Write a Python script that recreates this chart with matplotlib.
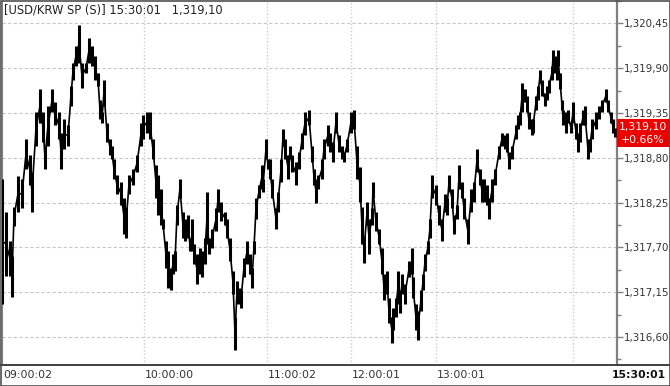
import numpy as np
import matplotlib.pyplot as plt
import matplotlib.transforms as mtransforms
from matplotlib.lines import Line2D
from matplotlib.patches import Rectangle

# tick chart: x is the tick count, y the high/low of each bar
tick_no = [2, 6, 10, 12, 14, 18, 22, 26, 30, 32, 36, 40, 43, 45, 48, 52, 55, 59, 61, 64,
           68, 71, 73, 76, 79, 82, 86, 89, 92, 95, 98, 100, 102, 104, 107, 110, 112, 114, 117, 121,
           124, 126, 129, 133, 137, 141, 143, 147, 150, 153, 156, 158, 161, 163, 166, 168, 171, 173, 175, 177,
           180, 183, 185, 188, 190, 192, 194, 197, 200, 202, 205, 207, 209, 212, 216, 218, 221, 225, 227, 230,
           233, 235, 237, 240, 241, 244, 247, 250, 252, 254, 256, 259, 262, 263, 266, 268, 270, 272, 276, 278,
           281, 283, 285, 288, 290, 292, 296, 299, 302, 305, 309, 312, 314, 316, 318, 322, 324, 328, 330, 333,
           336, 339, 342, 344, 347, 351, 354, 357, 360, 362, 364, 367, 369, 372, 373, 376, 379, 382, 384, 387,
           389, 392, 393, 396, 398, 400, 402, 405, 409, 412, 413, 416, 418, 421, 423, 425, 428, 430, 432, 436,
           439, 442, 445, 447, 449, 452, 454, 457, 459, 462, 464, 468, 471, 474, 477, 480, 482, 484, 487, 489,
           492, 495, 499, 502, 505, 507, 509, 512, 516, 518, 520, 522, 525, 527, 529, 532, 533, 536, 538, 540,
           542, 545, 547, 549, 552, 553, 555, 557, 558, 560, 562, 563, 566, 568, 571, 573, 576, 578, 580, 583,
           585, 588, 590, 592, 596, 599, 602, 606, 608, 611, 613, 615]

high = [1318.54, 1318.14, 1317.78, 1317.59, 1318.20, 1318.57, 1318.54, 1319.03, 1318.83, 1318.63,
        1319.36, 1319.64, 1319.36, 1318.95, 1319.44, 1319.64, 1319.48, 1319.36, 1319.11, 1319.27,
        1319.20, 1319.68, 1319.96, 1320.17, 1320.43, 1319.96, 1319.96, 1320.27, 1320.17, 1320.05,
        1319.84, 1319.51, 1319.36, 1319.76, 1319.23, 1319.03, 1318.95, 1318.78, 1318.59, 1318.50,
        1318.30, 1318.20, 1318.59, 1318.66, 1318.83, 1319.23, 1319.32, 1319.36, 1319.36, 1319.03,
        1318.71, 1318.59, 1318.42, 1318.05, 1317.78, 1317.65, 1317.45, 1317.62, 1317.65, 1318.22,
        1318.54, 1318.14, 1318.05, 1318.10, 1317.81, 1318.05, 1317.74, 1317.62, 1317.69, 1317.65,
        1317.81, 1318.38, 1317.81, 1317.93, 1318.18, 1318.42, 1318.26, 1318.14, 1318.05, 1317.81,
        1317.41, 1316.84, 1317.29, 1317.20, 1317.17, 1317.57, 1317.78, 1317.62, 1317.45, 1317.78,
        1318.30, 1318.47, 1318.71, 1318.54, 1319.03, 1318.78, 1318.78, 1318.54, 1318.18, 1318.38,
        1318.78, 1319.15, 1319.03, 1318.83, 1318.95, 1318.83, 1318.75, 1318.87, 1319.11, 1319.36,
        1319.39, 1318.95, 1318.66, 1318.54, 1318.59, 1318.78, 1319.03, 1319.20, 1319.11, 1318.99,
        1319.36, 1319.08, 1318.95, 1318.87, 1319.03, 1319.36, 1319.39, 1318.95, 1318.69, 1318.20,
        1317.84, 1318.26, 1318.05, 1318.18, 1318.50, 1318.14, 1317.93, 1317.69, 1317.37, 1317.41,
        1317.08, 1316.84, 1316.96, 1317.08, 1317.41, 1317.17, 1317.37, 1317.25, 1317.53, 1317.69,
        1317.33, 1317.01, 1316.92, 1317.17, 1317.37, 1317.62, 1317.78, 1318.05, 1318.59, 1318.47,
        1318.22, 1318.05, 1318.35, 1318.30, 1318.59, 1318.42, 1318.10, 1318.22, 1318.71, 1318.50,
        1318.30, 1318.05, 1318.42, 1318.50, 1318.91, 1318.66, 1318.54, 1318.54, 1318.47, 1318.30,
        1318.54, 1318.66, 1318.95, 1319.11, 1319.08, 1319.11, 1318.87, 1318.95, 1319.20, 1319.32,
        1319.36, 1319.72, 1319.64, 1319.56, 1319.36, 1319.27, 1319.27, 1319.56, 1319.68, 1319.88,
        1319.76, 1319.60, 1319.68, 1319.76, 1319.93, 1320.12, 1320.05, 1319.88, 1320.12, 1319.84,
        1319.51, 1319.39, 1319.36, 1319.39, 1319.23, 1319.48, 1319.23, 1319.11, 1319.23, 1319.39,
        1319.44, 1319.03, 1319.03, 1319.27, 1319.36, 1319.44, 1319.51, 1319.64, 1319.51, 1319.36,
        1319.27, 1319.17]

low = [1317.01, 1317.35, 1317.35, 1317.09, 1317.96, 1318.14, 1318.18, 1318.66, 1318.47, 1318.14,
       1318.95, 1319.23, 1318.99, 1318.66, 1318.95, 1319.36, 1319.20, 1319.03, 1318.66, 1318.91,
       1318.95, 1319.44, 1319.76, 1319.93, 1319.96, 1319.66, 1319.84, 1319.96, 1319.93, 1319.76,
       1319.68, 1319.27, 1319.23, 1319.44, 1318.99, 1318.83, 1318.78, 1318.54, 1318.35, 1318.22,
       1317.86, 1317.81, 1318.35, 1318.47, 1318.63, 1318.95, 1319.03, 1319.11, 1319.03, 1318.78,
       1318.30, 1318.10, 1317.98, 1317.93, 1317.45, 1317.20, 1317.17, 1317.37, 1317.41, 1317.98,
       1318.30, 1317.81, 1317.78, 1317.81, 1317.65, 1317.65, 1317.50, 1317.25, 1317.37, 1317.33,
       1317.50, 1317.74, 1317.62, 1317.69, 1317.90, 1318.14, 1318.02, 1317.98, 1317.81, 1317.53,
       1317.13, 1316.44, 1317.01, 1317.01, 1316.96, 1317.33, 1317.50, 1317.37, 1317.20, 1317.62,
       1318.05, 1318.30, 1318.42, 1318.38, 1318.78, 1318.66, 1318.54, 1318.30, 1317.93, 1318.14,
       1318.50, 1318.95, 1318.78, 1318.54, 1318.78, 1318.63, 1318.47, 1318.66, 1318.91, 1319.08,
       1319.20, 1318.75, 1318.47, 1318.24, 1318.42, 1318.54, 1318.78, 1318.95, 1318.87, 1318.75,
       1319.11, 1318.87, 1318.78, 1318.75, 1318.87, 1319.11, 1319.15, 1318.54, 1318.26, 1317.74,
       1317.51, 1317.98, 1317.62, 1317.98, 1318.30, 1317.90, 1317.74, 1317.37, 1317.05, 1317.13,
       1316.77, 1316.52, 1316.68, 1316.84, 1317.01, 1316.89, 1317.13, 1317.01, 1317.33, 1317.37,
       1317.08, 1316.68, 1316.56, 1316.92, 1317.17, 1317.41, 1317.62, 1317.81, 1318.30, 1318.22,
       1317.98, 1317.78, 1318.14, 1318.10, 1318.38, 1318.18, 1317.86, 1318.05, 1318.42, 1318.30,
       1318.05, 1317.74, 1318.14, 1318.26, 1318.63, 1318.47, 1318.26, 1318.26, 1318.22, 1318.05,
       1318.26, 1318.47, 1318.78, 1318.95, 1318.91, 1318.87, 1318.66, 1318.78, 1319.03, 1319.15,
       1319.20, 1319.36, 1319.48, 1319.36, 1319.15, 1319.08, 1319.11, 1319.39, 1319.51, 1319.72,
       1319.56, 1319.44, 1319.51, 1319.60, 1319.76, 1319.93, 1319.84, 1319.76, 1319.93, 1319.64,
       1319.39, 1319.20, 1319.11, 1319.23, 1319.11, 1319.23, 1319.03, 1318.87, 1318.99, 1319.20,
       1319.20, 1318.78, 1318.87, 1319.03, 1319.15, 1319.27, 1319.36, 1319.48, 1319.36, 1319.23,
       1319.11, 1319.05]

last_price = 1319.10
change_text = '+0.66%'
title_text = '[USD/KRW SP (S)] 15:30:01   1,319,10'

price_ticks = [1316.60, 1317.15, 1317.70, 1318.25, 1318.80, 1319.35, 1319.90, 1320.45]
time_ticks = [144, 267, 351, 436, 573]
time_labels = ['10:00:00', '11:00:02', '12:00:01', '13:00:01', '']
first_time = '09:00:02'
last_time = '15:30:01'


def fmt_price(v):
    # the terminal prints the decimal point as a comma
    return f'{v:,.2f}'.replace('.', ',')


W, H = 670, 386
fig = plt.figure(figsize=(W / 100, H / 100), dpi=100)
fig.patch.set_facecolor('white')

# plot area: x 2..617 px, y 1..365 px
ax = fig.add_axes([2 / W, 21 / H, 615 / W, 364 / H])
ax.set_xlim(2, 617)
ax.set_ylim(1316.255, 1320.681)

hi = np.array(high)
lo = np.array(low)
ax.vlines(tick_no, lo, hi, color='black', lw=2.2, zorder=3)
ax.plot(tick_no, (hi + lo) / 2, color='black', lw=1.2, zorder=3)

# grid
ax.set_yticks(price_ticks)
ax.set_yticklabels([fmt_price(p) for p in price_ticks])
minor = [(a + b) / 2 for a, b in zip(price_ticks[:-1], price_ticks[1:])]
minor = [price_ticks[0] - 0.275] + minor + [price_ticks[-1] + 0.275]
ax.set_yticks(minor, minor=True)
ax.yaxis.tick_right()
ax.tick_params(axis='y', which='major', length=4, width=1, color='#808080',
               labelsize=7.4, labelcolor='#333333', pad=1)
ax.tick_params(axis='y', which='minor', length=3, width=1, color='#808080')
ax.set_xticks(time_ticks)
ax.set_xticklabels([])
ax.tick_params(axis='x', length=0)
ax.grid(axis='y', color='#c8c8c8', linestyle=(0, (3, 2)), lw=0.8)
ax.grid(axis='x', color='#cccccc', linestyle=(0, (1, 1.5)), lw=1.0)

for side in ['top', 'bottom']:
    ax.spines[side].set_visible(False)
ax.spines['left'].set_color('#808080')
ax.spines['right'].set_color('#808080')
ax.spines['right'].set_linewidth(1.6)

# time labels in the bottom strip
tb = mtransforms.blended_transform_factory(ax.transData, fig.transFigure)
ax.text(tick_no[0] + 1, 10.5 / H, first_time, transform=tb, ha='left', va='center',
        fontsize=7.8, color='#333333')
for t, lab in zip(time_ticks, time_labels):
    ax.text(t + 1, 10.5 / H, lab, transform=tb, ha='left', va='center',
            fontsize=7.8, color='#333333')
fig.text(666 / W, 10.5 / H, last_time, ha='right', va='center', fontsize=7.8,
         fontweight='bold', color='#111111')

# title
fig.text(4 / W, 1 - 10 / H, title_text, ha='left', va='center', fontsize=8.3,
         color='#222222')

# current price marker
rb = mtransforms.blended_transform_factory(ax.transAxes, ax.transData)
ax.add_patch(Rectangle((1.0, last_price - 0.17), 60 / 615, 0.34, transform=rb,
                       facecolor='#ee0000', edgecolor='none', clip_on=False, zorder=5))
ax.text(1 + 26 / 615, last_price + 0.075, fmt_price(last_price), transform=rb,
        ha='center', va='center', color='white', fontsize=7.8, zorder=6)
ax.text(1 + 26 / 615, last_price - 0.085, change_text, transform=rb,
        ha='center', va='center', color='white', fontsize=7.8, zorder=6)

# bottom strip separator and outer frame
fig.add_artist(Line2D([0, 1], [21 / H, 21 / H], transform=fig.transFigure,
                      color='#404040', lw=1.4))
fig.add_artist(Rectangle((0.5 / W, 0.5 / H), 1 - 1 / W, 1 - 1 / H,
                         transform=fig.transFigure, fill=False,
                         edgecolor='#505050', lw=1.2))

fig.savefig('out.png', dpi=100)
